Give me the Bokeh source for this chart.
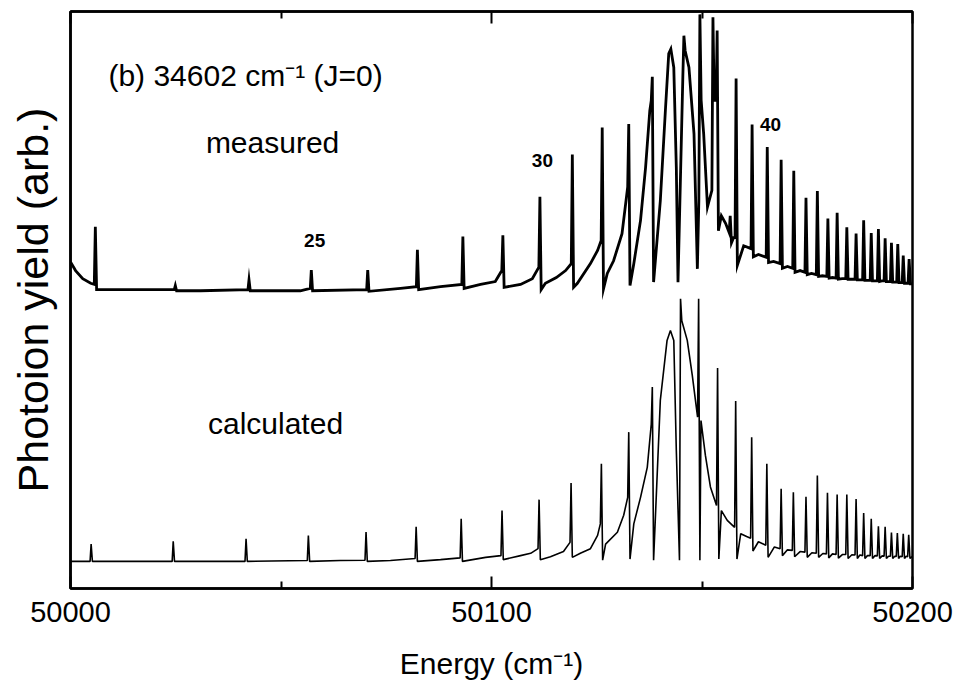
import numpy as np
from bokeh.plotting import figure
from bokeh.models import Range1d, FixedTicker, LinearAxis, Label
from bokeh.embed import file_html
from bokeh.resources import INLINE

# ---------------- data ----------------
XTICKS = [50000, 50100, 50200]
XMINOR = [50050, 50150]
XTICK_LABELS = ["50000", "50100", "50200"]

# calculated spectrum: Rydberg lines (energy, level before, apex, level after)
calc_E = [50004.9, 50024.4, 50041.7, 50056.5, 50070.2, 50082.1, 50092.8, 50102.5,
          50111.3, 50118.9, 50126.1, 50132.6, 50138.2, 50144.9, 50149.2, 50153.7,
          50158.0, 50161.8, 50165.4, 50168.8, 50171.7, 50174.7, 50177.4, 50179.8,
          50182.1, 50184.4, 50186.6, 50188.4, 50190.2, 50191.9, 50193.5, 50195.0,
          50196.4, 50197.8, 50199.1]
calc_pre = [4.7, 4.7, 4.7, 4.85, 4.9, 5.2, 5.3, 5.7, 6.9, 8.0, 11.2, 15.8, 28.5, 4.9,
            29.7, 14.4, 10.6, 8.7, 7.5, 6.9, 6.6, 6.3, 6.1, 6.0, 5.9, 5.9, 5.8, 5.7,
            5.7, 5.65, 5.6, 5.6, 5.55, 5.5, 5.5]
calc_top = [7.7, 8.2, 8.6, 9.2, 9.8, 10.7, 12.1, 13.5, 15.4, 18.3, 21.6, 27.1, 34.9,
            50.2, 50.2, 38.2, 32.5, 26.2, 21.6, 17.3, 16.7, 15.9, 19.6, 16.6, 16.3,
            16.3, 15.5, 13.1, 12.1, 10.8, 10.7, 9.7, 9.6, 9.5, 9.3]
calc_dip = [4.7, 4.7, 4.7, 4.7, 4.7, 4.7, 4.7, 5.0, 5.0, 5.4, 4.9, 5.1, 4.9, 46.4,
            4.9, 5.1, 5.1, 6.5, 5.4, 5.7, 5.5, 5.4, 5.4, 5.3, 5.25, 5.2, 5.2, 5.2,
            5.2, 5.2, 5.2, 5.2, 5.2, 5.2, 5.2]
# calculated continuum between the lines (incl. the broad interloper)
calc_bg_E = [50000.0, 50030.9, 50064.1, 50076.0, 50087.9, 50098.6, 50106.9, 50109.3,
             50114.0, 50117.1, 50121.1, 50123.5, 50125.2, 50127.1, 50129.9, 50131.4,
             50133.8, 50135.4, 50137.0, 50140.1, 50141.7, 50142.5, 50143.3, 50143.9,
             50146.5, 50147.7, 50149.76, 50150.8, 50152.0, 50154.6, 50156.0, 50159.2,
             50160.6, 50163.4, 50167.2, 50170.3, 50173.3, 50176.1, 50178.7, 50181.0,
             50183.4, 50185.6, 50187.5, 50189.3, 50191.1, 50192.8, 50194.3, 50195.8,
             50197.1, 50198.5, 50200.0]
calc_bg_y = [4.7, 4.7, 4.85, 4.85, 5.0, 5.4, 5.7, 6.1,
             5.5, 6.4, 6.1, 6.9, 9.2, 7.7, 9.75, 12.7,
             11.2, 15.8, 21.0, 32.6, 43.0, 44.7, 43.0, 23.9,
             43.0, 36.9, 29.1, 23.1, 17.6, 13.5, 11.8, 9.5,
             9.0, 8.1, 7.2, 6.7, 6.4, 6.2, 6.07, 6.0,
             5.9, 5.85, 5.8, 5.7, 5.7, 5.65, 5.6, 5.6,
             5.6, 5.6, 5.55]

# measured spectrum
meas_E = [50005.9, 50024.9, 50042.4, 50057.2, 50070.6, 50082.4, 50093.2, 50102.7,
          50111.5, 50119.2, 50126.3, 50132.6, 50138.2, 50145.7, 50149.5, 50152.6,
          50153.6, 50156.7, 50158.1, 50161.9, 50165.5, 50168.8, 50171.8, 50174.7,
          50177.4, 50179.9, 50182.1, 50184.4, 50186.6, 50188.4, 50190.2, 50191.9,
          50193.5, 50195.0, 50196.5, 50197.8, 50199.2]
meas_pre = [52.7, 51.8, 51.8, 52.0, 51.8, 52.3, 52.7, 55.1, 55.7, 56.3, 60.3, 69.6,
            84.6, 88.7, 67.2, 69.0, 84.6, 61.7, 60.8, 58.9, 57.4, 56.3, 55.5, 54.8,
            54.4, 54.1, 53.8, 53.7, 53.6, 53.5, 53.4, 53.3, 53.3, 53.2, 53.1, 53.0,
            52.9]
meas_top = [62.7, 52.5, 53.5, 55.2, 55.2, 58.7, 61.0, 61.2, 67.9, 75.2, 79.9, 80.5,
            88.7, 95.8, 99.5, 99.0, 96.7, 64.6, 88.4, 80.4, 76.5, 74.3, 72.4, 67.7,
            68.9, 64.1, 65.1, 62.6, 61.5, 63.8, 61.6, 62.3, 60.7, 59.9, 59.7, 57.7,
            57.1]
meas_dip = [51.8, 51.6, 51.6, 51.6, 51.5, 51.8, 52.0, 52.2, 51.8, 52.2, 51.9, 52.5,
            53.1, 93.2, 84.6, 84.6, 62.0, 59.9, 56.0, 57.5, 56.5, 55.5, 54.8, 54.4,
            54.1, 53.8, 53.6, 53.6, 53.5, 53.4, 53.3, 53.2, 53.2, 53.1, 53.0, 52.9,
            52.8]
meas_bg_E = [50000.0, 50001.2, 50002.9, 50004.8, 50009.5, 50030.9, 50054.6, 50078.4,
             50087.9, 50097.4, 50100.9, 50106.9, 50109.7, 50112.8, 50115.4, 50117.6,
             50120.4, 50123.5, 50125.2, 50127.5, 50129.0, 50131.0, 50133.8, 50135.4,
             50136.6, 50137.6, 50140.1, 50141.3, 50142.1, 50142.6, 50143.3, 50143.9,
             50144.3, 50146.9, 50148.1, 50148.9, 50150.4, 50151.3, 50154.6, 50155.6,
             50157.5, 50159.9, 50163.4, 50167.0, 50170.3, 50173.3, 50176.0, 50178.6,
             50181.0, 50183.3, 50185.5, 50187.5, 50189.3, 50191.0, 50192.7, 50194.2,
             50195.8, 50197.1, 50198.5, 50200.0]
meas_bg_y = [56.6, 55.1, 53.7, 52.9, 51.8, 51.6, 51.6, 52.0,
             52.3, 52.7, 53.2, 52.7, 53.7, 52.9, 53.9, 55.1,
             52.9, 56.3, 58.6, 54.6, 56.8, 61.5, 56.3, 63.8,
             73.0, 82.8, 67.2, 82.8, 92.7, 93.5, 90.3, 73.0,
             53.1, 90.3, 78.8, 55.4, 78.8, 66.1, 64.6, 63.3,
             60.8, 59.4, 57.9, 56.7, 55.8, 55.1, 54.6, 54.2,
             53.9, 53.7, 53.6, 53.5, 53.4, 53.3, 53.3, 53.2,
             53.1, 53.0, 52.9, 52.8]


def trace(E, pre, top, dip, bg_E, bg_y, w_pre=0.25, w_dip=0.3):
    xs = list(bg_E)
    ys = list(bg_y)
    for e, a, t, d in zip(E, pre, top, dip):
        xs += [e - w_pre, e, e + w_dip]
        ys += [a, t, d]
    idx = np.argsort(xs, kind="stable")
    return np.asarray(xs)[idx], np.asarray(ys)[idx]


FONT = "Liberation Sans"

p = figure(width=959, height=692,
           x_range=Range1d(50000, 50200), y_range=Range1d(0, 100),
           output_backend="svg", toolbar_location=None,
           min_border_left=70, min_border_right=47,
           min_border_top=11, min_border_bottom=104)
p.background_fill_color = "white"
p.border_fill_color = "white"
p.outline_line_color = "black"
p.outline_line_width = 2.5
p.xgrid.grid_line_color = None
p.ygrid.grid_line_color = None

mx, my = trace(meas_E, meas_pre, meas_top, meas_dip, meas_bg_E, meas_bg_y)
cx, cy = trace(calc_E, calc_pre, calc_top, calc_dip, calc_bg_E, calc_bg_y)
p.line(mx, my, line_color="black", line_width=2.8, line_join="miter")
p.line(cx, cy, line_color="black", line_width=1.6)

# bottom axis
xa = p.xaxis[0]
xa.ticker = FixedTicker(ticks=XTICKS, minor_ticks=XMINOR)
xa.major_label_overrides = {t: s for t, s in zip(XTICKS, XTICK_LABELS)}
xa.major_tick_in = 12
xa.major_tick_out = 0
xa.minor_tick_in = 7
xa.minor_tick_out = 0
xa.major_tick_line_width = 2
xa.minor_tick_line_width = 2
xa.axis_line_width = 2.5
xa.major_label_text_font = FONT
xa.major_label_text_font_size = "29px"
xa.major_label_text_color = "black"
xa.major_label_standoff = 13
xa.axis_label = "Energy (cm\u207b\u00b9)"
xa.axis_label_text_font = FONT
xa.axis_label_text_font_size = "30px"
xa.axis_label_text_font_style = "normal"
xa.axis_label_text_color = "black"
xa.axis_label_standoff = 22

# top mirror axis (ticks only, labels not drawn)
top = LinearAxis(ticker=FixedTicker(ticks=XTICKS, minor_ticks=XMINOR),
                 major_tick_in=12, major_tick_out=0, minor_tick_in=7, minor_tick_out=0,
                 major_tick_line_width=2, minor_tick_line_width=2,
                 axis_line_width=2.5, major_label_text_font_size="1px",
                 major_label_text_color=None, major_label_standoff=0)
p.add_layout(top, "above")

# left axis: label only
ya = p.yaxis[0]
ya.ticker = FixedTicker(ticks=[])
ya.major_tick_in = 0
ya.major_tick_out = 0
ya.minor_tick_in = 0
ya.minor_tick_out = 0
ya.axis_line_width = 2.5
ya.major_label_standoff = 0
ya.axis_label = "Photoion yield (arb.)"
ya.axis_label_text_font = FONT
ya.axis_label_text_font_size = "43px"
ya.axis_label_text_font_style = "normal"
ya.axis_label_text_color = "black"
ya.axis_label_standoff = 14

# annotations
def lab(x, y, text, size, bold=False, align="center"):
    p.add_layout(Label(x=x, y=y, text=text, text_font=FONT, text_font_size=size,
                       text_font_style="bold" if bold else "normal",
                       text_align=align, text_baseline="middle", text_color="black"))

lab(50009.0, 88.9, "(b) 34602 cm\u207b\u00b9 (J=0)", "30px", align="left")
lab(50048.0, 77.3, "measured", "30px")
lab(50048.7, 28.6, "calculated", "30px")
lab(50058.0, 60.3, "25", "19px", bold=True)
lab(50112.1, 74.2, "30", "19px", bold=True)
lab(50166.3, 80.4, "40", "19px", bold=True)

open("out.html", "w").write(file_html(p, INLINE))
